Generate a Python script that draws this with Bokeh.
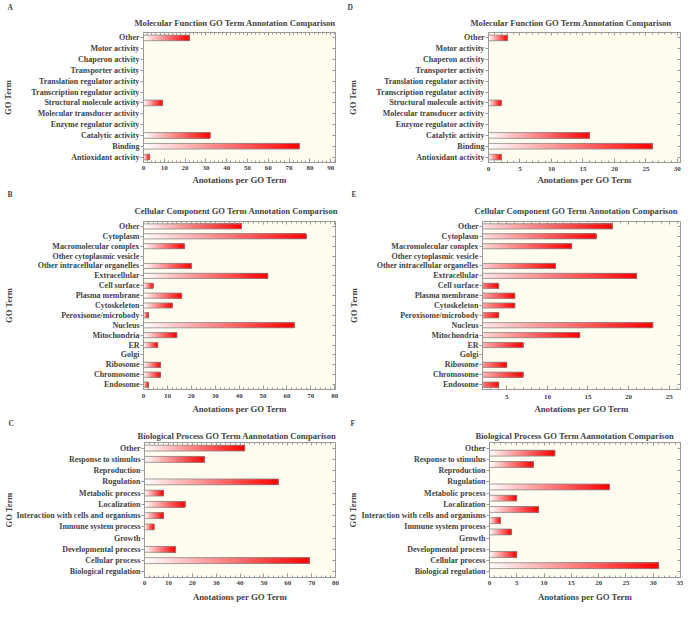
from bokeh.plotting import figure
from bokeh.models import (FactorRange, Range1d, LinearAxis, CategoricalAxis, Title,
                          SingleIntervalTicker, ColumnDataSource)
from bokeh.transform import dodge
from bokeh.layouts import column, row
from bokeh.embed import file_html
from bokeh.resources import INLINE

# ---------------- data ----------------
mf_terms = ["Other", "Motor activity", "Chaperon activity", "Transporter activity",
            "Translation regulator activity", "Transcription regulator activity",
            "Structural molecule activity", "Molecular transducer activity",
            "Enzyme regulator activity", "Catalytic activity", "Binding", "Antioxidant activity"]
mf_a = [22, 0, 0, 0, 0, 0, 9, 0, 0, 32, 75, 3]
mf_d = [3, 0, 0, 0, 0, 0, 2, 0, 0, 16, 26, 2]

cc_terms = ["Other", "Cytoplasm", "Macromolecular complex", "Other cytoplasmic vesicle",
            "Other intracellular organelles", "Extracellular", "Cell surface", "Plasma membrane",
            "Cytoskeleton", "Peroxisome/microbody", "Nucleus", "Mitochondria", "ER", "Golgi",
            "Ribosome", "Chromosome", "Endosome"]
cc_b = [41, 68, 17, 0, 20, 52, 4, 16, 12, 2, 63, 14, 6, 0, 7, 7, 2]
cc_e = [18, 16, 13, 0, 11, 21, 4, 6, 6, 4, 23, 14, 7, 0, 5, 7, 4]

bp_terms = ["Other", "Response to stimulus", "Reproduction", "Rugulation", "Metabolic process",
            "Localization", "Interaction with cells and organisms", "Immune system process",
            "Growth", "Developmental process", "Cellular process", "Biological regulation"]
bp_c = [42, 25, 0, 56, 8, 17, 8, 4, 0, 13, 69, 0]
bp_f = [12, 8, 0, 22, 5, 9, 2, 4, 0, 5, 31, 0]

title_mf = "Molecular Function GO Term Annotation Comparison"
title_cc = "Cellular Component GO Term Annotation Comparison"
title_bp = "Biological Process GO Term Aannotation Comparison"
xlabel = "Anotations per GO Term"
ylabel = "GO Term"

# ---------------- style ----------------
FONT = "Liberation Serif"
BG = "#fefdf0"
EDGE = "#9a9a9a"
N = 40
BAR_H = 0.52


def panel(letter, title, terms, values, x0, x1, interval, W, H, bl, br, bt, bb,
          title_x, title_standoff, letter_x, ylab_standoff,
          xtick_standoff, xlab_standoff, shift=0.0):
    fac = list(reversed(terms))
    p = figure(width=W, height=H, y_range=FactorRange(factors=fac), x_range=Range1d(x0, x1),
               output_backend="svg", toolbar_location=None,
               min_border_left=bl, min_border_right=br, min_border_top=bt, min_border_bottom=bb)
    p.xgrid.visible = False
    p.ygrid.visible = False
    p.background_fill_color = BG
    p.border_fill_color = "white"
    p.outline_line_color = EDGE
    p.outline_line_width = 1

    # gradient bars (white -> red), built from the values
    tl, ll, rl, cl = [], [], [], []
    for i in range(N):
        frac = (i + 0.5) / N
        g = int(round(255 * (1 - frac)))
        col = "#ff%02x%02x" % (g, g)
        for t, v in zip(terms, values):
            if v > 0:
                tl.append(t); ll.append(v * i / N); rl.append(v); cl.append(col)
    src = ColumnDataSource(dict(term=tl, left=ll, right=rl, color=cl))
    ycoord = dodge("term", shift, range=p.y_range) if shift else "term"
    p.hbar(y=ycoord, left="left", right="right", height=BAR_H, fill_color="color",
           line_color=None, source=src)
    nz_t = [t for t, v in zip(terms, values) if v > 0]
    nz_v = [v for v in values if v > 0]
    src2 = ColumnDataSource(dict(term=nz_t, right=nz_v))
    p.hbar(y=ycoord, left=0, right="right", height=BAR_H, fill_color=None,
           line_color="#8a8a8a", line_width=0.8, source=src2)

    # bottom axis
    xa = p.xaxis[0]
    xa.ticker = SingleIntervalTicker(interval=interval, num_minor_ticks=5)
    xa.axis_label = xlabel
    xa.axis_label_text_font = FONT
    xa.axis_label_text_font_style = "bold"
    xa.axis_label_text_font_size = "8.8px"
    xa.axis_label_standoff = xlab_standoff
    xa.major_label_text_font = FONT
    xa.major_label_text_font_style = "bold"
    xa.major_label_text_font_size = "7px"
    xa.major_label_standoff = xtick_standoff
    xa.major_tick_in = 4
    xa.major_tick_out = 0
    xa.minor_tick_in = 2
    xa.minor_tick_out = 0
    xa.axis_line_color = EDGE
    xa.major_tick_line_color = EDGE
    xa.minor_tick_line_color = EDGE

    # left axis
    ya = p.yaxis[0]
    ya.axis_label = ylabel
    ya.axis_label_text_font = FONT
    ya.axis_label_text_font_style = "bold"
    ya.axis_label_text_font_size = "8.5px"
    ya.axis_label_standoff = ylab_standoff
    ya.major_label_text_font = FONT
    ya.major_label_text_font_style = "bold"
    ya.major_label_text_font_size = "8px"
    ya.major_label_standoff = 1
    ya.major_tick_in = 0
    ya.major_tick_out = 3
    ya.axis_line_color = EDGE
    ya.major_tick_line_color = EDGE

    # frame ticks on top and right
    ta = LinearAxis(ticker=SingleIntervalTicker(interval=interval, num_minor_ticks=5),
                    major_label_text_font_size="1px", major_label_text_alpha=0,
                    major_label_standoff=0, major_tick_in=3, major_tick_out=0,
                    minor_tick_in=2, minor_tick_out=0, axis_line_color=None,
                    major_tick_line_color=EDGE, minor_tick_line_color=EDGE)
    p.add_layout(ta, "above")
    ra = CategoricalAxis(major_label_text_font_size="1px", major_label_text_alpha=0,
                         major_label_standoff=0, major_tick_in=3, major_tick_out=0,
                         axis_line_color=None, major_tick_line_color=EDGE)
    p.add_layout(ra, "right")

    # panel letter (outermost, top-left) and chart title (next to the frame)
    p.title.text = letter
    p.title.text_font = FONT
    p.title.text_font_style = "bold"
    p.title.text_font_size = "7.5px"
    p.title.align = "left"
    p.title.offset = letter_x - bl
    p.title.standoff = 0

    p.add_layout(Title(text=title, text_font=FONT, text_font_style="bold",
                       text_font_size="8.6px", align="left", offset=title_x - bl,
                       standoff=title_standoff), "above")
    return p


LW, RW = 340, 343
R1H, R2H, R3H = 187, 229, 188

pA = panel("A", title_mf, mf_terms, mf_a, 0, 92.3, 10, LW, R1H, 139, 5, 32, 23,
           130, 9, 3, 15, 3, 2)
pD = panel("D", title_mf, mf_terms, mf_d, 0, 30.5, 5, RW, R1H, 148, 3, 32, 23,
           470 - 340, 9, 7, 15, 4, 1)
pB = panel("B", title_cc, cc_terms, cc_b, 0, 80.3, 10, LW, R2H, 139, 5, 34, 25,
           130, 11, 3, 21, 4, 3)
pE = panel("E", title_cc, cc_terms, cc_e, 2, 26.4, 5, RW, R2H, 142, 3, 34, 25,
           474 - 340, 11, 11, 15, 5, 2)
pC = panel("C", title_bp, bp_terms, bp_c, 0, 80, 10, LW, R3H, 139, 5, 26, 26,
           132, 3, 3, 0, 3, 4)
pF = panel("F", title_bp, bp_terms, bp_f, 0, 35, 5, RW, R3H, 149, 3, 26, 26,
           475 - 340, 3, 10, 1, 3, 4, shift=-0.45)

layout = column(row(pA, pD), row(pB, pE), row(pC, pF))
open("out.html", "w").write(file_html(layout, INLINE))
